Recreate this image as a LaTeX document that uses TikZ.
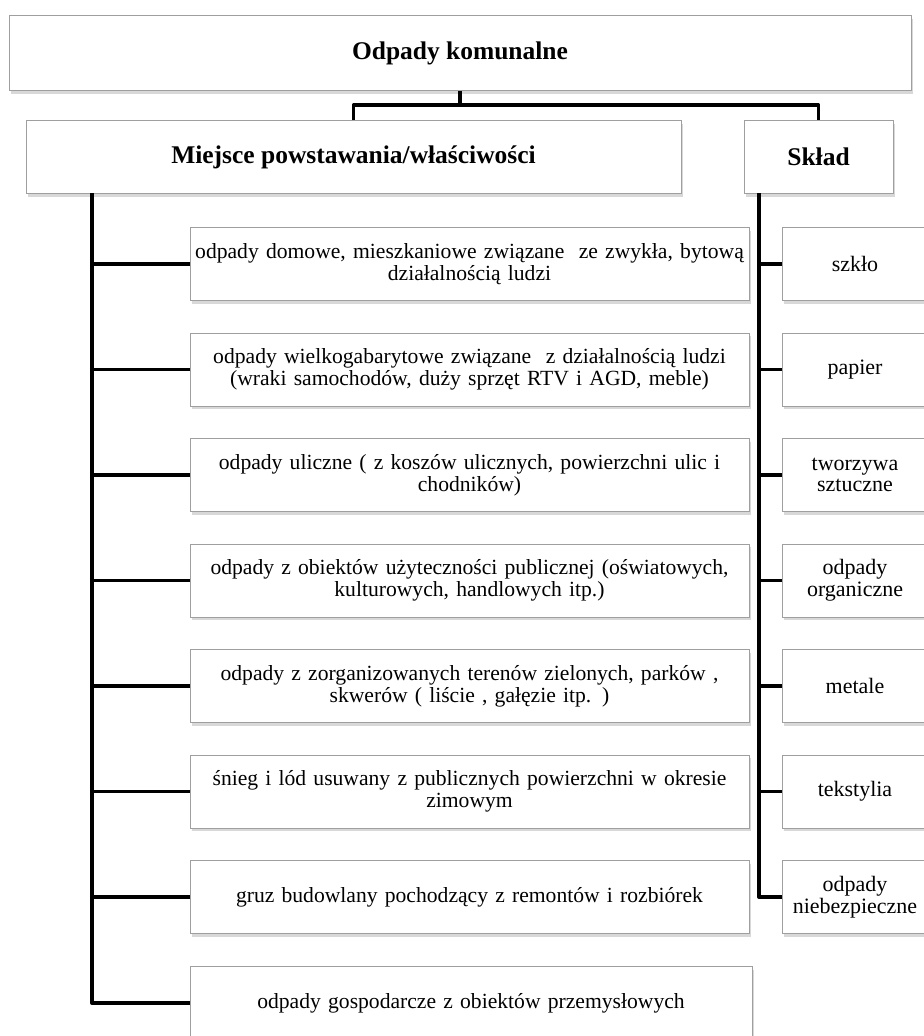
\documentclass[tikz,border=0pt]{standalone}
\usepackage{fontspec}
\setmainfont{Liberation Serif}
\usepackage{tikz}
\usetikzlibrary{shadows}

\begin{document}
\begin{tikzpicture}[x=0.2mm, y=0.2mm,
  box/.style={draw=gray!75, line width=0.5pt, fill=white, align=center, inner sep=1mm,
    drop shadow={shadow xshift=0.35mm, shadow yshift=-0.6mm, fill=gray!60}},
  head/.style={box, font=\fontsize{14.5}{16}\selectfont\bfseries, minimum height=14.6mm},
  item/.style={box, font=\fontsize{12.3}{12.4}\selectfont, minimum width=111.8mm, text width=111mm, inner xsep=0.4mm, minimum height=14.6mm},
  kind/.style={box, font=\fontsize{12.5}{12.4}\selectfont, minimum width=29.2mm, text width=27mm, minimum height=14.6mm},
  conn/.style={line width=2.2pt, line join=round}]
\useasboundingbox (0,0) rectangle (923,-1036);

\node[head, minimum width=180.4mm, minimum height=15mm] (top) at (460,-53) {Odpady komunalne};
\node[head, minimum width=131mm] (miejsce) at (353.5,-157) {Miejsce powstawania/właściwości};
\node[head, minimum width=29.8mm] (sklad) at (818.5,-157) {Skład};

% place of origin
\node[item] (l1) at (469.5,-264) {odpady domowe, mieszkaniowe związane\ \ ze zwykła, bytową\\działalnością ludzi};
\node[item] (l2) at (469.5,-369.5) {odpady wielkogabarytowe związane\ \ z działalnością ludzi\\(wraki samochodów, duży sprzęt RTV i AGD, meble)};
\node[item] (l3) at (469.5,-475) {odpady uliczne ( z koszów ulicznych, powierzchni ulic i\\chodników)};
\node[item] (l4) at (469.5,-580.5) {odpady z obiektów użyteczności publicznej (oświatowych,\\kulturowych, handlowych itp.)};
\node[item] (l5) at (469.5,-686) {odpady z zorganizowanych terenów zielonych, parków ,\\skwerów ( liście , gałęzie itp. )};
\node[item] (l6) at (469.5,-791.5) {śnieg i lód usuwany z publicznych powierzchni w okresie\\zimowym};
\node[item] (l7) at (469.5,-897) {gruz budowlany pochodzący z remontów i rozbiórek};
\node[item, minimum width=112.4mm] (l8) at (471,-1003) {odpady gospodarcze z obiektów przemysłowych};

% composition
\node[kind] (r1) at (855,-264) {szkło};
\node[kind] (r2) at (855,-369.5) {papier};
\node[kind] (r3) at (855,-475) {tworzywa\\sztuczne};
\node[kind] (r4) at (855,-580.5) {odpady\\organiczne};
\node[kind] (r5) at (855,-686) {metale};
\node[kind] (r6) at (855,-791.5) {tekstylia};
\node[kind] (r7) at (855,-897) {odpady\\niebezpieczne};

\coordinate (hub) at (460,-105);
\coordinate (spineL) at (92,-193);
\coordinate (spineR) at (759,-193);

\draw[conn] (top.south) -- (hub);
\draw[conn] (miejsce.north) |- (hub) -| (sklad.north);

\draw[conn] (spineL) |- (l8.west);
\draw[conn] (spineL |- l1.west) -- (l1.west);
\draw[conn] (spineL |- l2.west) -- (l2.west);
\draw[conn] (spineL |- l3.west) -- (l3.west);
\draw[conn] (spineL |- l4.west) -- (l4.west);
\draw[conn] (spineL |- l5.west) -- (l5.west);
\draw[conn] (spineL |- l6.west) -- (l6.west);
\draw[conn] (spineL |- l7.west) -- (l7.west);

\draw[conn] (spineR) |- (r7.west);
\draw[conn] (spineR |- r1.west) -- (r1.west);
\draw[conn] (spineR |- r2.west) -- (r2.west);
\draw[conn] (spineR |- r3.west) -- (r3.west);
\draw[conn] (spineR |- r4.west) -- (r4.west);
\draw[conn] (spineR |- r5.west) -- (r5.west);
\draw[conn] (spineR |- r6.west) -- (r6.west);
\end{tikzpicture}
\end{document}
